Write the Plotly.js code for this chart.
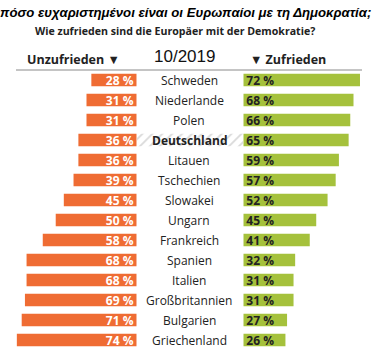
<!DOCTYPE html>
<html><head><meta charset="utf-8">
<script src="https://cdn.plot.ly/plotly-3.0.1.min.js"></script>
<style>html,body{margin:0;padding:0;background:#fff}#c{width:383px;height:358px}</style>
</head><body><div id="c"></div>
<script>
const countries = ["Schweden","Niederlande","Polen","Deutschland","Litauen","Tschechien","Slowakei","Ungarn","Frankreich","Spanien","Italien","Großbritannien","Bulgarien","Griechenland"];
const unzufrieden = [28,31,31,36,36,39,45,50,58,68,68,69,71,74];
const zufrieden = [72,68,66,65,59,57,52,45,41,32,31,31,27,26];
const highlight = "Deutschland";
const titleGr = "πόσο ευχαριστημένοι είναι οι Ευρωπαίοι με τη Δημοκρατία;";
const titleDe = "Wie zufrieden sind die Europäer mit der Demokratie?";
const headLeft = "Unzufrieden ▼";
const headMid = "10/2019";
const headRight = "▼ Zufrieden";

const W = 383;
const FONT = "'Open Sans', sans-serif";
const orange = "#EF6C33", green = "#A5C13C";

const traces = [
  {type:'bar', orientation:'h', y:countries, x:countries.map(c=>c===highlight?1:0),
   xaxis:'x3', yaxis:'y', width:0.62, hoverinfo:'skip',
   marker:{color:'rgba(0,0,0,0)', pattern:{shape:'/', fgcolor:'#d9d9d9', bgcolor:'rgba(0,0,0,0)', size:7, solidity:0.25}, line:{width:0}}},
  {type:'bar', orientation:'h', y:countries, x:unzufrieden, xaxis:'x', yaxis:'y', width:0.62,
   marker:{color:orange, line:{width:0}}, text:unzufrieden.map(v=>v+' %'),
   textposition:'inside', insidetextanchor:'start', constraintext:'none', cliponaxis:false,
   insidetextfont:{color:'#fff', size:12, family:FONT, weight:'bold'}},
  {type:'bar', orientation:'h', y:countries, x:zufrieden, xaxis:'x2', yaxis:'y', width:0.62,
   marker:{color:green, line:{width:0}}, text:zufrieden.map(v=>v+' %'),
   textposition:'inside', insidetextanchor:'start', constraintext:'none', cliponaxis:false,
   insidetextfont:{color:'#222', size:12, family:FONT, weight:'bold'}}
];

const ann = countries.map(c=>({xref:'paper', yref:'y', x:189/W, y:c, text:c===highlight?'<b>'+c+'</b>':c,
  showarrow:false, xanchor:'center', yanchor:'middle', font:{size:12, family:FONT, color:'#222'}}));
ann.push(
  {xref:'paper', yref:'paper', x:-2/W, y:1, yshift:58, text:'<b><i>'+titleGr+'</i></b>', showarrow:false, xanchor:'left', yanchor:'middle', font:{size:13.2, family:'Liberation Sans, Arial, sans-serif', color:'#000'}},
  {xref:'paper', yref:'paper', x:175/W, y:1, yshift:39, text:'<b>'+titleDe+'</b>', showarrow:false, xanchor:'center', yanchor:'middle', font:{size:10.6, family:FONT, color:'#222'}},
  {xref:'paper', yref:'paper', x:73/W, y:1, yshift:11, text:'<b>'+headLeft+'</b>', showarrow:false, xanchor:'center', yanchor:'middle', font:{size:12.5, family:FONT, color:'#222'}},
  {xref:'paper', yref:'paper', x:184/W, y:1, yshift:14, text:headMid, showarrow:false, xanchor:'center', yanchor:'middle', font:{size:17, family:'Liberation Sans, Arial, sans-serif', color:'#111'}},
  {xref:'paper', yref:'paper', x:288/W, y:1, yshift:11, text:'<b>'+headRight+'</b>', showarrow:false, xanchor:'center', yanchor:'middle', font:{size:12.5, family:FONT, color:'#222'}}
);

const layout = {
  width:W, height:358, margin:{l:0, r:0, t:70, b:8},
  paper_bgcolor:'#fff', plot_bgcolor:'rgba(0,0,0,0)', showlegend:false, barmode:'overlay',
  xaxis:{domain:[0,136.7/W], range:[84.4,0], visible:false, fixedrange:true},
  xaxis2:{domain:[243.3/W,1], range:[0,86.2], visible:false, anchor:'y'},
  xaxis3:{domain:[137/W,243/W], range:[0,1], visible:false, anchor:'y'},
  yaxis:{range:[13.5,-0.5], visible:false, type:'category'},
  annotations:ann,
  shapes:[{type:'line', xref:'paper', yref:'paper', x0:16/W, x1:362/W, y0:1, y1:1, yshift:3, line:{color:'#8a8a8a', width:1}}]
};
Plotly.newPlot('c', traces, layout, {staticPlot:true});
</script></body></html>
